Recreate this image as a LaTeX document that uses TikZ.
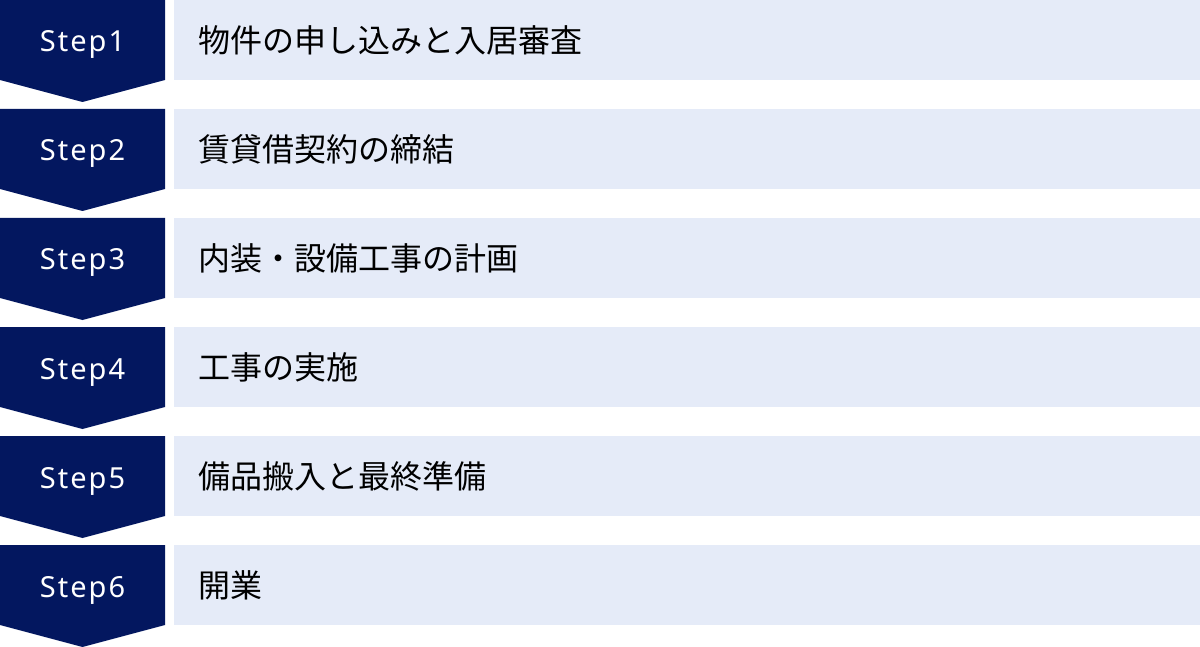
\documentclass[tikz,border=0pt]{standalone}
\usepackage{fontspec}
\setmainfont{Noto Sans}
\newfontfamily\jpfont{Noto Sans CJK JP}
\definecolor{navy}{HTML}{03175F}
\definecolor{lightbg}{HTML}{E5EBF8}
\begin{document}
\begin{tikzpicture}[x=1pt,y=-1pt,
  chev/.style={fill=navy,draw=none},
  bar/.style={fill=lightbg,draw=none},
  steplabel/.style={text=white,font=\fontsize{29}{29}\selectfont\addfontfeatures{LetterSpace=7},anchor=base,inner sep=0pt},
  desc/.style={text=black,font=\jpfont\fontsize{32}{32}\selectfont,anchor=west,inner sep=0pt}]
\useasboundingbox (0,0) rectangle (1200,647);
\foreach \i/\t in {1/物件の申し込みと入居審査,2/賃貸借契約の締結,3/内装・設備工事の計画,4/工事の実施,5/備品搬入と最終準備,6/開業}{
  \pgfmathsetmacro{\y}{(\i-1)*109}
  \fill[chev] (0,\y) -- (165,\y) -- (165,\y+80) -- (82.5,\y+102) -- (0,\y+80) -- cycle;
  \fill[bar] (174,\y) rectangle (1200,\y+80);
  \node[steplabel] (s\i) at (82.5,\y+52) {Step\i};
  \node[desc] (d\i) at (198,\y+40) {\t};
}
\end{tikzpicture}
\end{document}
